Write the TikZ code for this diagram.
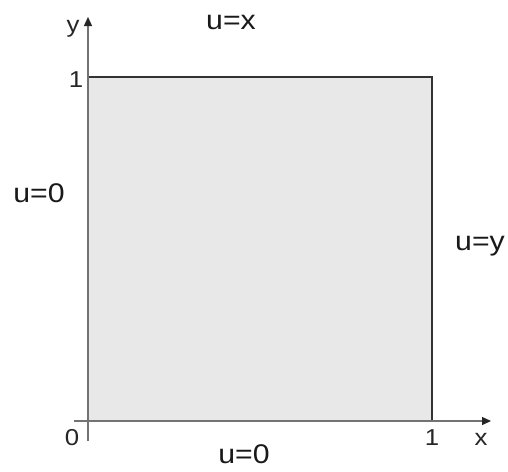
\documentclass[tikz,border=0pt]{standalone}
\usepackage{fontspec}
\setmainfont{Liberation Sans}
\newfontfamily\labfont[FakeStretch=1.12]{Liberation Sans}
\usetikzlibrary{arrows.meta}
\begin{document}
\begin{tikzpicture}[x=1pt,y=-1pt,
  big/.style={font=\labfont\fontsize{27}{30}\selectfont, inner sep=0pt, text=black!90},
  small/.style={font=\labfont\fontsize{23}{26}\selectfont, inner sep=0pt, text=black!85},
  axis/.style={draw=black!55, line width=1.3pt, -{Triangle[length=9pt,width=8pt,color=black!85]}},
  region/.style={draw=black!80, line width=2pt, fill=black!9}]
\useasboundingbox (0,0) rectangle (508,471);
\coordinate (o) at (88,421);
\coordinate (tr) at (432,77);
\coordinate (ys) at (88,441);
\coordinate (ye) at (88,17);
\coordinate (xs) at (74,421);
\coordinate (xe) at (491,421);
\path[region] (o) rectangle (tr);
\draw[axis] (ys) -- (ye);
\draw[axis] (xs) -- (xe);
\node[small] (ylab) at (73,29) {y};
\node[small] (one1) at (76,80) {1};
\node[small] (zero) at (72,438) {0};
\node[small] (one2) at (432,438) {1};
\node[small] (xlab) at (481,439) {x};
\node[big] (top) at (231,22) {u=x};
\node[big] (left) at (39,193) {u=0};
\node[big] (right) at (480,246) {u=y};
\node[big] (bottom) at (244,454) {u=0};
\end{tikzpicture}
\end{document}
